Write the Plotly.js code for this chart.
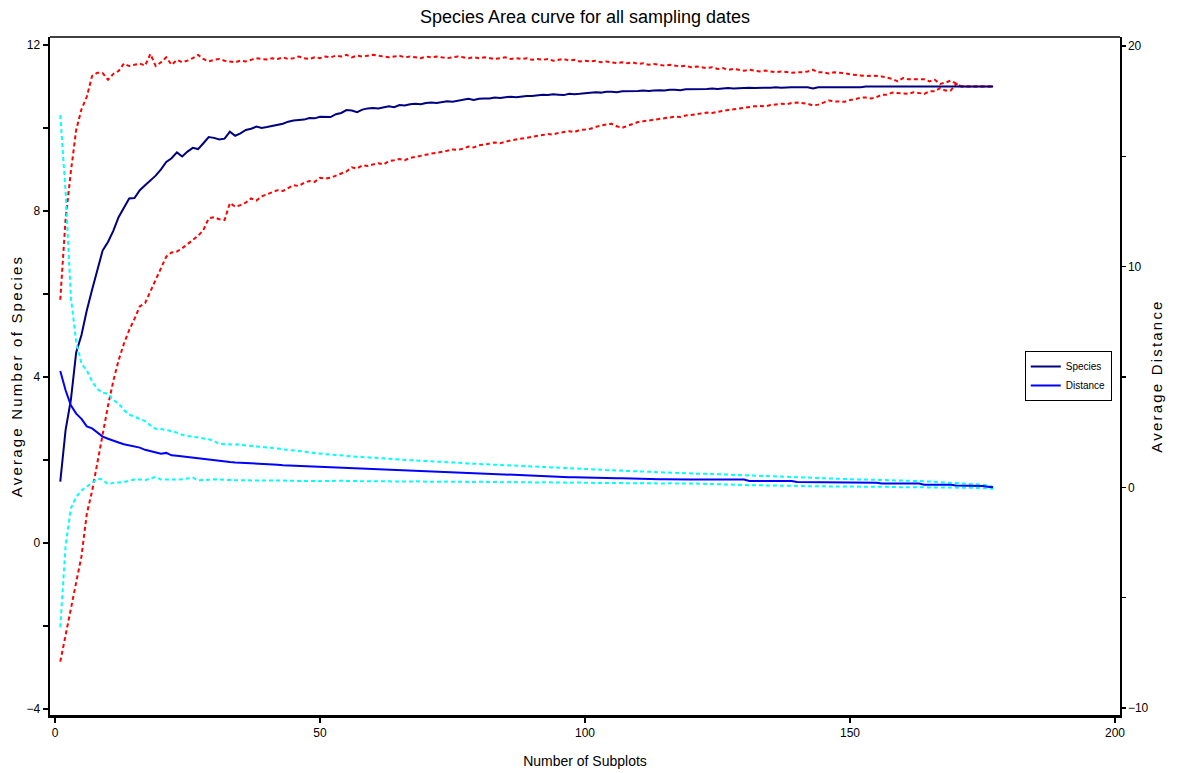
<!DOCTYPE html>
<html>
<head>
<meta charset="utf-8">
<script src="https://cdn.plot.ly/plotly-3.0.1.min.js"></script>
<style>
  html, body { margin: 0; padding: 0; background: #ffffff; }
  #chart { width: 1177px; height: 773px; }
  /* the vertical axis titles are set with wide letter spacing */
  #chart .ytitle, #chart .y2title { letter-spacing: 2.2px; }
</style>
</head>
<body>
<div id="chart"></div>
<script>
// Mean number of species found as subplots are added (left axis)
const species = [
  1.48, 2.72, 3.45, 4.59, 5.01, 5.6, 6.1, 6.6, 7.05, 7.25,
  7.52, 7.85, 8.08, 8.3, 8.31, 8.5, 8.62, 8.73, 8.85, 9.0,
  9.18, 9.27, 9.41, 9.31, 9.43, 9.52, 9.49, 9.63, 9.78, 9.76,
  9.72, 9.74, 9.91, 9.81, 9.87, 9.95, 9.98, 10.03, 10.0, 10.02,
  10.05, 10.08, 10.1, 10.15, 10.18, 10.19, 10.2, 10.24, 10.23, 10.27,
  10.27, 10.26, 10.33, 10.36, 10.43, 10.42, 10.38, 10.44, 10.47, 10.48,
  10.47, 10.5, 10.52, 10.5, 10.55, 10.54, 10.57, 10.58, 10.57, 10.6,
  10.61, 10.6, 10.62, 10.64, 10.63, 10.65, 10.68, 10.7, 10.67, 10.7,
  10.71, 10.71, 10.73, 10.72, 10.74, 10.75, 10.74, 10.76, 10.77, 10.77,
  10.78, 10.8, 10.79, 10.81, 10.8, 10.79, 10.82, 10.81, 10.82, 10.83,
  10.85, 10.86, 10.85, 10.87, 10.87, 10.86, 10.88, 10.88, 10.89, 10.89,
  10.9, 10.89, 10.9, 10.91, 10.9, 10.92, 10.92, 10.91, 10.93, 10.93,
  10.93, 10.94, 10.94, 10.95, 10.94, 10.95, 10.96, 10.95, 10.96, 10.96,
  10.97, 10.96, 10.97, 10.97, 10.97, 10.98, 10.97, 10.98, 10.98, 10.98,
  10.98, 10.98, 10.95, 10.98, 10.98, 10.98, 10.98, 10.98, 10.98, 10.98,
  10.98, 10.98, 11.0, 11.0, 11.0, 11.0, 11.0, 11.0, 11.0, 11.0,
  11.0, 11.0, 11.0, 11.0, 11.0, 11.0, 11.0, 11.0, 11.0, 11.0,
  11.0, 11.0, 11.0, 11.0, 11.0, 11.0, 11.0
];

// Upper and lower bounds of the species curve
const speciesUpper = [
  5.86, 7.8, 8.95, 9.95, 10.45, 10.75, 11.25, 11.33, 11.32, 11.16,
  11.3, 11.37, 11.55, 11.49, 11.52, 11.55, 11.5, 11.78, 11.49, 11.58,
  11.7, 11.52, 11.64, 11.58, 11.62, 11.68, 11.76, 11.66, 11.6, 11.64,
  11.66, 11.62, 11.6, 11.58, 11.62, 11.6, 11.64, 11.68, 11.66, 11.65,
  11.68, 11.66, 11.7, 11.66, 11.68, 11.72, 11.68, 11.66, 11.7, 11.68,
  11.72, 11.7, 11.74, 11.72, 11.76, 11.7, 11.74, 11.72, 11.74, 11.76,
  11.74, 11.72, 11.7, 11.72, 11.74, 11.7, 11.72, 11.7, 11.68, 11.72,
  11.7, 11.72, 11.7, 11.68, 11.7, 11.72, 11.7, 11.68, 11.7, 11.68,
  11.7, 11.68, 11.66, 11.68, 11.7, 11.66, 11.68, 11.66, 11.68, 11.64,
  11.66, 11.64, 11.66, 11.62, 11.64, 11.66, 11.62, 11.64, 11.6, 11.62,
  11.6, 11.62, 11.58, 11.6, 11.58, 11.56, 11.58, 11.56, 11.58, 11.54,
  11.56, 11.52, 11.54, 11.52, 11.5, 11.52, 11.5, 11.48, 11.5, 11.46,
  11.48, 11.46, 11.44, 11.46, 11.42, 11.44, 11.4, 11.42, 11.4, 11.38,
  11.4, 11.38, 11.36, 11.38, 11.36, 11.34, 11.36, 11.34, 11.33, 11.34,
  11.34, 11.36, 11.4, 11.34, 11.34, 11.31, 11.34, 11.33, 11.32, 11.29,
  11.28, 11.27, 11.25, 11.26, 11.25, 11.24, 11.21, 11.18, 11.12, 11.2,
  11.17, 11.17, 11.17, 11.17, 11.12, 11.16, 11.06, 11.09, 11.14, 11.06,
  11.0, 11.0, 11.0, 11.0, 11.0, 11.0, 11.0
];

const speciesLower = [
  -2.86, -2.25, -1.6, -0.95, -0.32, 0.7, 1.25, 1.95, 2.65, 3.3,
  3.9, 4.4, 4.8, 5.13, 5.4, 5.7, 5.78, 6.05, 6.35, 6.6,
  6.9, 7.0, 7.02, 7.1, 7.2, 7.3, 7.4, 7.54, 7.82, 7.85,
  7.8, 7.78, 8.19, 8.1, 8.14, 8.2, 8.3, 8.25, 8.35, 8.4,
  8.45, 8.5, 8.48, 8.55, 8.62, 8.6, 8.68, 8.72, 8.7, 8.8,
  8.78, 8.8, 8.85, 8.9, 8.95, 9.05, 9.02, 9.1, 9.08, 9.12,
  9.15, 9.12, 9.2, 9.22, 9.25, 9.22, 9.28, 9.3, 9.33, 9.35,
  9.38, 9.4, 9.42, 9.45, 9.48, 9.47, 9.5, 9.55, 9.53, 9.58,
  9.6, 9.62, 9.65, 9.63, 9.67, 9.7, 9.72, 9.74, 9.76, 9.78,
  9.8, 9.82, 9.85, 9.84, 9.88, 9.9, 9.92, 9.9, 9.95, 9.96,
  9.98, 10.02, 10.06, 10.08, 10.1, 10.04, 10.0, 10.05, 10.1, 10.14,
  10.16, 10.18, 10.2, 10.22, 10.24, 10.25, 10.27, 10.26, 10.3, 10.31,
  10.33, 10.35, 10.37, 10.36, 10.39, 10.41, 10.43, 10.45, 10.46, 10.48,
  10.5, 10.52, 10.53, 10.52, 10.55, 10.56, 10.58, 10.57, 10.6, 10.61,
  10.6, 10.58, 10.54, 10.56, 10.61, 10.66, 10.64, 10.63, 10.63, 10.67,
  10.69, 10.73, 10.73, 10.71, 10.74, 10.8, 10.8, 10.85, 10.84, 10.84,
  10.82, 10.86, 10.84, 10.82, 10.88, 10.88, 10.96, 10.9, 10.9, 11.06,
  11.0, 11.0, 11.0, 11.0, 11.0, 11.0, 11.0
];

// Mean distance as subplots are added (right axis)
const distance = [
  5.27, 4.4, 3.72, 3.34, 3.1, 2.76, 2.67, 2.47, 2.3, 2.2,
  2.1, 2.03, 1.95, 1.9, 1.82, 1.8, 1.7, 1.65, 1.58, 1.52,
  1.56, 1.45, 1.43, 1.4, 1.37, 1.35, 1.32, 1.3, 1.27, 1.22,
  1.18, 1.17, 1.15, 1.13, 1.12, 1.1, 1.08, 1.07, 1.05, 1.04,
  1.03, 1.02, 1.0, 0.99, 0.98, 0.97, 0.95, 0.94, 0.93, 0.91,
  0.9, 0.89, 0.88, 0.87, 0.86, 0.84, 0.85, 0.83, 0.82, 0.81,
  0.8, 0.79, 0.78, 0.77, 0.76, 0.75, 0.74, 0.73, 0.72, 0.71,
  0.7, 0.69, 0.68, 0.67, 0.66, 0.65, 0.64, 0.63, 0.62, 0.61,
  0.6, 0.59, 0.58, 0.57, 0.56, 0.55, 0.54, 0.53, 0.52, 0.51,
  0.5, 0.5, 0.49, 0.48, 0.48, 0.47, 0.46, 0.46, 0.45, 0.45,
  0.44, 0.44, 0.43, 0.43, 0.42, 0.41, 0.41, 0.4, 0.4, 0.39,
  0.39, 0.38, 0.38, 0.37, 0.37, 0.36, 0.36, 0.36, 0.35, 0.35,
  0.35, 0.35, 0.35, 0.35, 0.35, 0.35, 0.35, 0.35, 0.35, 0.35,
  0.29, 0.29, 0.29, 0.29, 0.29, 0.29, 0.29, 0.29, 0.29, 0.24,
  0.24, 0.24, 0.24, 0.24, 0.24, 0.24, 0.24, 0.21, 0.21, 0.21,
  0.21, 0.21, 0.21, 0.21, 0.21, 0.17, 0.17, 0.17, 0.17, 0.17,
  0.17, 0.17, 0.17, 0.12, 0.12, 0.12, 0.12, 0.12, 0.12, 0.08,
  0.08, 0.08, 0.08, 0.08, 0.06, 0.03, 0.0
];

// Upper and lower bounds of the distance curve
const distanceUpper = [
  16.87, 13.4, 8.6, 6.6, 5.6, 5.3, 4.8, 4.45, 4.28, 4.25,
  3.95, 3.8, 3.5, 3.3, 3.2, 3.1, 3.0, 2.8, 2.65, 2.64,
  2.6, 2.55, 2.48, 2.38, 2.33, 2.3, 2.26, 2.22, 2.18, 2.1,
  1.97, 1.95, 1.95, 1.95, 1.94, 1.9, 1.88, 1.86, 1.82, 1.8,
  1.78, 1.76, 1.72, 1.7, 1.68, 1.64, 1.62, 1.58, 1.55, 1.52,
  1.5, 1.48, 1.47, 1.44, 1.42, 1.4, 1.39, 1.37, 1.35, 1.34,
  1.32, 1.31, 1.29, 1.28, 1.26, 1.24, 1.23, 1.22, 1.2, 1.19,
  1.18, 1.16, 1.15, 1.14, 1.12, 1.11, 1.1, 1.08, 1.07, 1.06,
  1.05, 1.04, 1.02, 1.01, 1.0, 0.99, 0.98, 0.97, 0.95, 0.94,
  0.93, 0.92, 0.91, 0.9, 0.89, 0.88, 0.87, 0.86, 0.85, 0.84,
  0.82, 0.81, 0.8, 0.78, 0.77, 0.76, 0.74, 0.73, 0.72, 0.7,
  0.69, 0.68, 0.67, 0.66, 0.66, 0.65, 0.64, 0.64, 0.63, 0.63,
  0.62, 0.62, 0.61, 0.61, 0.6, 0.6, 0.59, 0.59, 0.58, 0.57,
  0.55, 0.53, 0.51, 0.5, 0.5, 0.49, 0.49, 0.48, 0.48, 0.47,
  0.46, 0.45, 0.44, 0.42, 0.4, 0.39, 0.38, 0.37, 0.37, 0.36,
  0.36, 0.35, 0.35, 0.34, 0.33, 0.32, 0.32, 0.31, 0.31, 0.3,
  0.3, 0.29, 0.29, 0.28, 0.27, 0.26, 0.24, 0.23, 0.21, 0.19,
  0.17, 0.16, 0.15, 0.14, 0.12, 0.08, 0.02
];

const distanceLower = [
  -6.34, -2.65, -0.95, -0.44, -0.14, 0.01, 0.2, 0.39, 0.35, 0.14,
  0.2, 0.22, 0.24, 0.3, 0.35, 0.35, 0.32, 0.4, 0.47, 0.35,
  0.35, 0.35, 0.36, 0.36, 0.4, 0.44, 0.32, 0.32, 0.34, 0.36,
  0.36, 0.35, 0.33, 0.32, 0.32, 0.33, 0.32, 0.32, 0.31, 0.3,
  0.31, 0.3, 0.3, 0.31, 0.3, 0.29, 0.3, 0.29, 0.29, 0.28,
  0.29, 0.28, 0.28, 0.3, 0.29, 0.28, 0.28, 0.27, 0.28, 0.27,
  0.27, 0.28, 0.27, 0.26, 0.27, 0.26, 0.26, 0.27, 0.26, 0.25,
  0.26, 0.25, 0.25, 0.26, 0.25, 0.24, 0.25, 0.24, 0.24, 0.25,
  0.24, 0.23, 0.24, 0.23, 0.23, 0.24, 0.23, 0.22, 0.23, 0.22,
  0.22, 0.23, 0.22, 0.21, 0.22, 0.21, 0.21, 0.22, 0.21, 0.2,
  0.21, 0.2, 0.2, 0.19, 0.2, 0.19, 0.19, 0.2, 0.19, 0.18,
  0.19, 0.18, 0.18, 0.18, 0.17, 0.18, 0.17, 0.17, 0.17, 0.17,
  0.17, 0.16, 0.15, 0.15, 0.14, 0.13, 0.12, 0.11, 0.1, 0.1,
  0.09, 0.09, 0.09, 0.09, 0.08, 0.08, 0.07, 0.07, 0.06, 0.06,
  0.06, 0.05, 0.05, 0.05, 0.05, 0.04, 0.04, 0.04, 0.03, 0.03,
  0.03, 0.03, 0.02, 0.02, 0.02, 0.02, 0.02, 0.01, 0.01, 0.01,
  0.0, 0.0, -0.01, -0.01, -0.01, -0.01, -0.01, -0.01, -0.01, -0.01,
  -0.01, -0.02, -0.02, -0.03, -0.04, -0.05, -0.06
];

// Number of subplots: 1, 2, 3, ...
const subplots = Array.from({ length: species.length }, (_, i) => i + 1);

const xTicks = [0, 50, 100, 150, 200];

const NAVY = '#000080';
const BLUE = '#0000ff';
const RED = '#ff0000';
const CYAN = '#00ffff';
const narrow = '"Liberation Sans Narrow", "Arial Narrow", "Liberation Sans", Arial, sans-serif';
const regular = '"Liberation Sans", Arial, sans-serif';
const dotted = '4px,3px';

const traces = [
  { x: subplots, y: speciesUpper, yaxis: 'y', mode: 'lines', showlegend: false,
    line: { color: RED, width: 2, dash: dotted }, hoverinfo: 'skip' },
  { x: subplots, y: speciesLower, yaxis: 'y', mode: 'lines', showlegend: false,
    line: { color: RED, width: 2, dash: dotted }, hoverinfo: 'skip' },
  { x: subplots, y: distanceUpper, yaxis: 'y2', mode: 'lines', showlegend: false,
    line: { color: CYAN, width: 2, dash: dotted }, hoverinfo: 'skip' },
  { x: subplots, y: distanceLower, yaxis: 'y2', mode: 'lines', showlegend: false,
    line: { color: CYAN, width: 2, dash: dotted }, hoverinfo: 'skip' },
  { x: subplots, y: species, yaxis: 'y', mode: 'lines', name: 'Species',
    line: { color: NAVY, width: 2 } },
  { x: subplots, y: distance, yaxis: 'y2', mode: 'lines', name: 'Distance',
    line: { color: BLUE, width: 2 } }
];

const layout = {
  width: 1177,
  height: 773,
  margin: { l: 50, r: 57, t: 37, b: 58, pad: 0 },
  paper_bgcolor: '#ffffff',
  plot_bgcolor: '#ffffff',
  font: { family: narrow, color: '#000000', size: 12 },
  title: {
    text: 'Species Area curve for all sampling dates',
    font: { family: narrow, size: 18, color: '#000000' },
    xref: 'paper', x: 0.5, xanchor: 'center',
    yref: 'container', y: 0.978, yanchor: 'middle'
  },
  xaxis: {
    range: [-0.94, 200.94],
    tickvals: xTicks,
    ticktext: xTicks.map(String),
    ticks: 'outside', ticklen: 5, tickwidth: 1.5, tickcolor: '#000000',
    showline: true, linewidth: 2.5, linecolor: '#000000',
    showgrid: false, zeroline: false,
    tickfont: { family: narrow, size: 12 },
    title: { text: 'Number of Subplots', font: { family: narrow, size: 14 }, standoff: 18 }
  },
  yaxis: {
    range: [-4.145, 12.19],
    dtick: 4, tick0: 0,
    ticks: 'outside', ticklen: 5, tickwidth: 1.5, tickcolor: '#000000',
    minor: { dtick: 2, tick0: 0, ticks: 'outside', ticklen: 5, tickwidth: 1.5, tickcolor: '#000000' },
    showline: true, linewidth: 2.5, linecolor: '#000000',
    showgrid: false, zeroline: false,
    tickfont: { family: narrow, size: 12 },
    title: { text: 'Average Number of Species', font: { family: regular, size: 15 }, standoff: 0 }
  },
  yaxis2: {
    overlaying: 'y', side: 'right',
    range: [-10.32, 20.41],
    dtick: 10, tick0: 0,
    ticks: 'outside', ticklen: 4, tickwidth: 1.5, tickcolor: '#000000',
    minor: { dtick: 5, tick0: 0, ticks: 'outside', ticklen: 4, tickwidth: 1.5, tickcolor: '#000000' },
    showline: true, linewidth: 1.5, linecolor: '#000000',
    showgrid: false, zeroline: false,
    tickfont: { family: narrow, size: 12 },
    title: { text: 'Average Distance', font: { family: regular, size: 15 }, standoff: 4 }
  },
  shapes: [
    { type: 'line', xref: 'paper', yref: 'paper', x0: 0, x1: 1, y0: 1, y1: 1,
      line: { color: '#000000', width: 1.5 } }
  ],
  legend: {
    x: 0.911, y: 0.537, xanchor: 'left', yanchor: 'top',
    bgcolor: '#ffffff', bordercolor: '#000000', borderwidth: 1,
    font: { family: narrow, size: 10, color: '#000000' },
    itemwidth: 30, tracegroupgap: 0
  },
  showlegend: true
};

Plotly.newPlot('chart', traces, layout, { displayModeBar: false, staticPlot: true });
</script>
</body>
</html>
